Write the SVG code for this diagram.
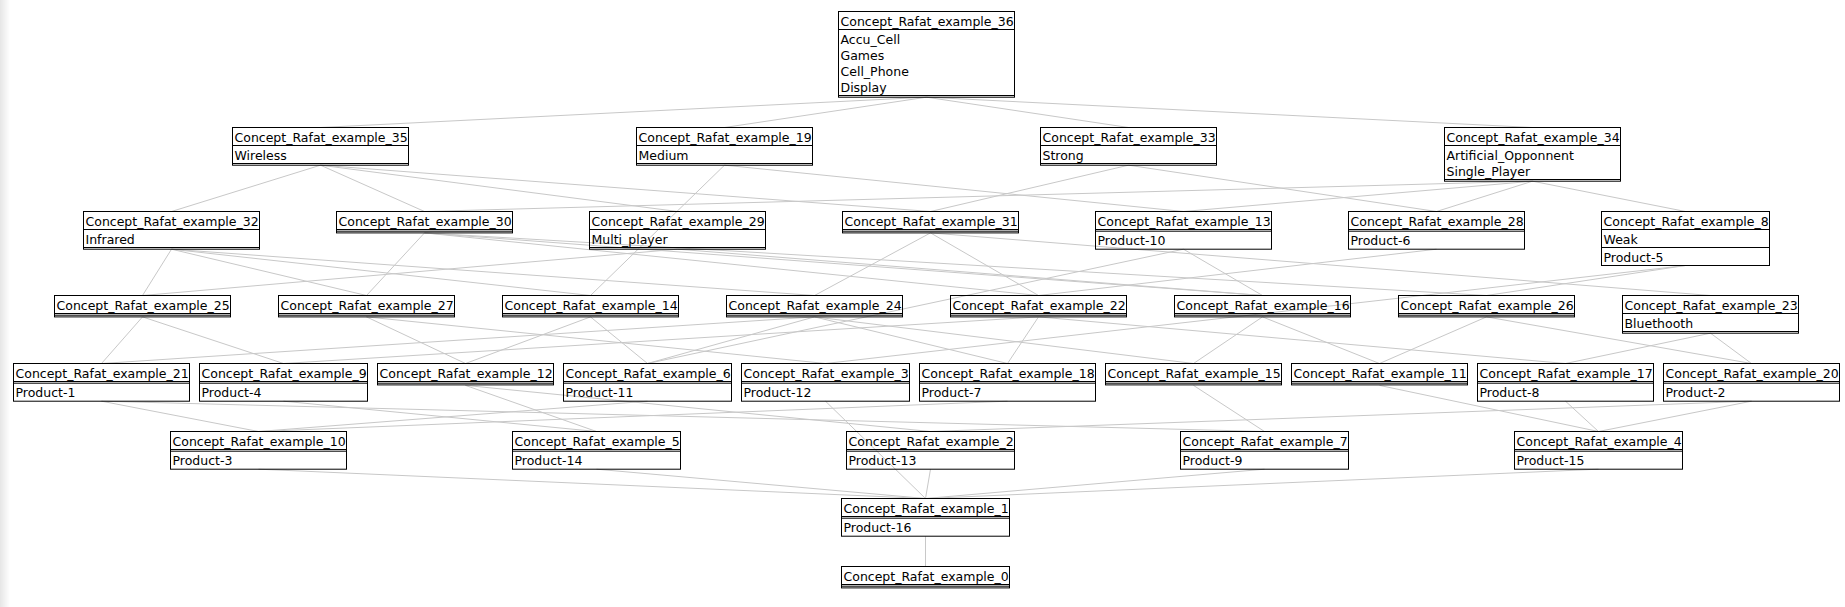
<svg xmlns="http://www.w3.org/2000/svg" width="1845" height="607" viewBox="0 0 1845 607">
<defs>
<linearGradient id="edge" x1="0" y1="0" x2="1" y2="0"><stop offset="0" stop-color="#e6e6e6"/><stop offset="1" stop-color="#ffffff"/></linearGradient>
</defs>
<style>
.b{fill:none;stroke:#000;stroke-width:1}
.s{stroke:#000;stroke-width:1}
.c line{stroke:#c8c8c8;stroke-width:1}
text{font-family:"DejaVu Sans","Liberation Sans",sans-serif;font-size:12.5px;fill:#000}
</style>
<rect x="0" y="0" width="1845" height="607" fill="#fff"/>
<rect x="0" y="0" width="10" height="607" fill="url(#edge)"/>
<g class="c" id="connectors">
<line x1="926.5" y1="97.2" x2="320.5" y2="127.5"/>
<line x1="926.5" y1="97.2" x2="724.5" y2="127.5"/>
<line x1="926.5" y1="97.2" x2="1128.5" y2="127.5"/>
<line x1="926.5" y1="97.2" x2="1532.5" y2="127.5"/>
<line x1="320.5" y1="165.2" x2="171.5" y2="211.5"/>
<line x1="320.5" y1="165.2" x2="424.5" y2="211.5"/>
<line x1="320.5" y1="165.2" x2="677.5" y2="211.5"/>
<line x1="320.5" y1="165.2" x2="930.5" y2="211.5"/>
<line x1="724.5" y1="165.2" x2="590.5" y2="295.5"/>
<line x1="724.5" y1="165.2" x2="1183.5" y2="211.5"/>
<line x1="1128.5" y1="165.2" x2="930.5" y2="211.5"/>
<line x1="1128.5" y1="165.2" x2="1436.5" y2="211.5"/>
<line x1="1532.5" y1="181.2" x2="424.5" y2="211.5"/>
<line x1="1532.5" y1="181.2" x2="1183.5" y2="211.5"/>
<line x1="1532.5" y1="181.2" x2="1436.5" y2="211.5"/>
<line x1="1532.5" y1="181.2" x2="1685.5" y2="211.5"/>
<line x1="171.5" y1="249.2" x2="142.5" y2="295.5"/>
<line x1="171.5" y1="249.2" x2="366.5" y2="295.5"/>
<line x1="171.5" y1="249.2" x2="590.5" y2="295.5"/>
<line x1="171.5" y1="249.2" x2="814.5" y2="295.5"/>
<line x1="424.5" y1="232.9" x2="366.5" y2="295.5"/>
<line x1="424.5" y1="232.9" x2="1038.5" y2="295.5"/>
<line x1="424.5" y1="232.9" x2="1262.5" y2="295.5"/>
<line x1="424.5" y1="232.9" x2="1486.5" y2="295.5"/>
<line x1="677.5" y1="249.2" x2="142.5" y2="295.5"/>
<line x1="677.5" y1="249.2" x2="1262.5" y2="295.5"/>
<line x1="930.5" y1="232.9" x2="814.5" y2="295.5"/>
<line x1="930.5" y1="232.9" x2="1038.5" y2="295.5"/>
<line x1="930.5" y1="232.9" x2="1710.5" y2="295.5"/>
<line x1="1183.5" y1="249.2" x2="647.5" y2="363.5"/>
<line x1="1183.5" y1="249.2" x2="1262.5" y2="295.5"/>
<line x1="1436.5" y1="249.2" x2="1038.5" y2="295.5"/>
<line x1="1685.5" y1="265.5" x2="1486.5" y2="295.5"/>
<line x1="1685.5" y1="265.5" x2="825.5" y2="363.5"/>
<line x1="142.5" y1="316.9" x2="101.5" y2="363.5"/>
<line x1="142.5" y1="316.9" x2="283.5" y2="363.5"/>
<line x1="366.5" y1="316.9" x2="465.5" y2="363.5"/>
<line x1="366.5" y1="316.9" x2="825.5" y2="363.5"/>
<line x1="590.5" y1="316.9" x2="465.5" y2="363.5"/>
<line x1="590.5" y1="316.9" x2="647.5" y2="363.5"/>
<line x1="814.5" y1="316.9" x2="101.5" y2="363.5"/>
<line x1="814.5" y1="316.9" x2="647.5" y2="363.5"/>
<line x1="814.5" y1="316.9" x2="1007.5" y2="363.5"/>
<line x1="814.5" y1="316.9" x2="1193.5" y2="363.5"/>
<line x1="1038.5" y1="316.9" x2="283.5" y2="363.5"/>
<line x1="1038.5" y1="316.9" x2="1007.5" y2="363.5"/>
<line x1="1038.5" y1="316.9" x2="1565.5" y2="363.5"/>
<line x1="1262.5" y1="316.9" x2="1193.5" y2="363.5"/>
<line x1="1262.5" y1="316.9" x2="1379.5" y2="363.5"/>
<line x1="1486.5" y1="316.9" x2="1379.5" y2="363.5"/>
<line x1="1486.5" y1="316.9" x2="1751.5" y2="363.5"/>
<line x1="1710.5" y1="333.2" x2="1565.5" y2="363.5"/>
<line x1="1710.5" y1="333.2" x2="1751.5" y2="363.5"/>
<line x1="101.5" y1="401.2" x2="258.5" y2="431.5"/>
<line x1="101.5" y1="401.2" x2="1264.5" y2="431.5"/>
<line x1="283.5" y1="401.2" x2="596.5" y2="431.5"/>
<line x1="465.5" y1="385.4" x2="596.5" y2="431.5"/>
<line x1="465.5" y1="385.4" x2="930.5" y2="431.5"/>
<line x1="647.5" y1="401.2" x2="258.5" y2="431.5"/>
<line x1="825.5" y1="401.2" x2="925.5" y2="498.5"/>
<line x1="1007.5" y1="401.2" x2="258.5" y2="431.5"/>
<line x1="1193.5" y1="385.4" x2="1264.5" y2="431.5"/>
<line x1="1379.5" y1="385.4" x2="1598.5" y2="431.5"/>
<line x1="1565.5" y1="401.2" x2="1598.5" y2="431.5"/>
<line x1="1751.5" y1="401.2" x2="1598.5" y2="431.5"/>
<line x1="1751.5" y1="401.2" x2="930.5" y2="431.5"/>
<line x1="258.5" y1="469.2" x2="925.5" y2="498.5"/>
<line x1="596.5" y1="469.2" x2="925.5" y2="498.5"/>
<line x1="930.5" y1="469.2" x2="925.5" y2="498.5"/>
<line x1="1264.5" y1="469.2" x2="925.5" y2="498.5"/>
<line x1="1598.5" y1="469.2" x2="925.5" y2="498.5"/>
<line x1="925.5" y1="536.2" x2="925.5" y2="566.5"/>
</g>
<g id="n36"><rect class="b" x="838.5" y="11.5" width="176" height="85.7"/><line class="s" x1="838.5" y1="29.5" x2="1014.5" y2="29.5"/><line class="s" x1="838.5" y1="95.5" x2="1014.5" y2="95.5"/><text x="840.5" y="25.5">Concept_Rafat_example_36</text><text x="840.5" y="43.5">Accu_Cell</text><text x="840.5" y="59.5">Games</text><text x="840.5" y="75.5">Cell_Phone</text><text x="840.5" y="91.5">Display</text></g>
<g id="n35"><rect class="b" x="232.5" y="127.5" width="176" height="37.7"/><line class="s" x1="232.5" y1="145.5" x2="408.5" y2="145.5"/><line class="s" x1="232.5" y1="163.5" x2="408.5" y2="163.5"/><text x="234.5" y="141.5">Concept_Rafat_example_35</text><text x="234.5" y="159.5">Wireless</text></g>
<g id="n19"><rect class="b" x="636.5" y="127.5" width="176" height="37.7"/><line class="s" x1="636.5" y1="145.5" x2="812.5" y2="145.5"/><line class="s" x1="636.5" y1="163.5" x2="812.5" y2="163.5"/><text x="638.5" y="141.5">Concept_Rafat_example_19</text><text x="638.5" y="159.5">Medium</text></g>
<g id="n33"><rect class="b" x="1040.5" y="127.5" width="176" height="37.7"/><line class="s" x1="1040.5" y1="145.5" x2="1216.5" y2="145.5"/><line class="s" x1="1040.5" y1="163.5" x2="1216.5" y2="163.5"/><text x="1042.5" y="141.5">Concept_Rafat_example_33</text><text x="1042.5" y="159.5">Strong</text></g>
<g id="n34"><rect class="b" x="1444.5" y="127.5" width="176" height="53.7"/><line class="s" x1="1444.5" y1="145.5" x2="1620.5" y2="145.5"/><line class="s" x1="1444.5" y1="179.5" x2="1620.5" y2="179.5"/><text x="1446.5" y="141.5">Concept_Rafat_example_34</text><text x="1446.5" y="159.5">Artificial_Opponnent</text><text x="1446.5" y="175.5">Single_Player</text></g>
<g id="n32"><rect class="b" x="83.5" y="211.5" width="176" height="37.7"/><line class="s" x1="83.5" y1="229.5" x2="259.5" y2="229.5"/><line class="s" x1="83.5" y1="247.5" x2="259.5" y2="247.5"/><text x="85.5" y="225.5">Concept_Rafat_example_32</text><text x="85.5" y="243.5">Infrared</text></g>
<g id="n30"><rect class="b" x="336.5" y="211.5" width="176" height="21.4"/><line class="s" x1="336.5" y1="229.5" x2="512.5" y2="229.5"/><line class="s" x1="336.5" y1="231.2" x2="512.5" y2="231.2"/><text x="338.5" y="225.5">Concept_Rafat_example_30</text></g>
<g id="n29"><rect class="b" x="589.5" y="211.5" width="176" height="37.7"/><line class="s" x1="589.5" y1="229.5" x2="765.5" y2="229.5"/><line class="s" x1="589.5" y1="247.5" x2="765.5" y2="247.5"/><text x="591.5" y="225.5">Concept_Rafat_example_29</text><text x="591.5" y="243.5">Multi_player</text></g>
<g id="n31"><rect class="b" x="842.5" y="211.5" width="176" height="21.4"/><line class="s" x1="842.5" y1="229.5" x2="1018.5" y2="229.5"/><line class="s" x1="842.5" y1="231.2" x2="1018.5" y2="231.2"/><text x="844.5" y="225.5">Concept_Rafat_example_31</text></g>
<g id="n13"><rect class="b" x="1095.5" y="211.5" width="176" height="37.7"/><line class="s" x1="1095.5" y1="229.5" x2="1271.5" y2="229.5"/><line class="s" x1="1095.5" y1="231.2" x2="1271.5" y2="231.2"/><text x="1097.5" y="225.5">Concept_Rafat_example_13</text><text x="1097.5" y="245">Product-10</text></g>
<g id="n28"><rect class="b" x="1348.5" y="211.5" width="176" height="37.7"/><line class="s" x1="1348.5" y1="229.5" x2="1524.5" y2="229.5"/><line class="s" x1="1348.5" y1="231.2" x2="1524.5" y2="231.2"/><text x="1350.5" y="225.5">Concept_Rafat_example_28</text><text x="1350.5" y="245">Product-6</text></g>
<g id="n8"><rect class="b" x="1601.5" y="211.5" width="168" height="54"/><line class="s" x1="1601.5" y1="229.5" x2="1769.5" y2="229.5"/><line class="s" x1="1601.5" y1="247.5" x2="1769.5" y2="247.5"/><text x="1603.5" y="225.5">Concept_Rafat_example_8</text><text x="1603.5" y="243.5">Weak</text><text x="1603.5" y="261.5">Product-5</text></g>
<g id="n25"><rect class="b" x="54.5" y="295.5" width="176" height="21.4"/><line class="s" x1="54.5" y1="313.5" x2="230.5" y2="313.5"/><line class="s" x1="54.5" y1="315.2" x2="230.5" y2="315.2"/><text x="56.5" y="309.5">Concept_Rafat_example_25</text></g>
<g id="n27"><rect class="b" x="278.5" y="295.5" width="176" height="21.4"/><line class="s" x1="278.5" y1="313.5" x2="454.5" y2="313.5"/><line class="s" x1="278.5" y1="315.2" x2="454.5" y2="315.2"/><text x="280.5" y="309.5">Concept_Rafat_example_27</text></g>
<g id="n14"><rect class="b" x="502.5" y="295.5" width="176" height="21.4"/><line class="s" x1="502.5" y1="313.5" x2="678.5" y2="313.5"/><line class="s" x1="502.5" y1="315.2" x2="678.5" y2="315.2"/><text x="504.5" y="309.5">Concept_Rafat_example_14</text></g>
<g id="n24"><rect class="b" x="726.5" y="295.5" width="176" height="21.4"/><line class="s" x1="726.5" y1="313.5" x2="902.5" y2="313.5"/><line class="s" x1="726.5" y1="315.2" x2="902.5" y2="315.2"/><text x="728.5" y="309.5">Concept_Rafat_example_24</text></g>
<g id="n22"><rect class="b" x="950.5" y="295.5" width="176" height="21.4"/><line class="s" x1="950.5" y1="313.5" x2="1126.5" y2="313.5"/><line class="s" x1="950.5" y1="315.2" x2="1126.5" y2="315.2"/><text x="952.5" y="309.5">Concept_Rafat_example_22</text></g>
<g id="n16"><rect class="b" x="1174.5" y="295.5" width="176" height="21.4"/><line class="s" x1="1174.5" y1="313.5" x2="1350.5" y2="313.5"/><line class="s" x1="1174.5" y1="315.2" x2="1350.5" y2="315.2"/><text x="1176.5" y="309.5">Concept_Rafat_example_16</text></g>
<g id="n26"><rect class="b" x="1398.5" y="295.5" width="176" height="21.4"/><line class="s" x1="1398.5" y1="313.5" x2="1574.5" y2="313.5"/><line class="s" x1="1398.5" y1="315.2" x2="1574.5" y2="315.2"/><text x="1400.5" y="309.5">Concept_Rafat_example_26</text></g>
<g id="n23"><rect class="b" x="1622.5" y="295.5" width="176" height="37.7"/><line class="s" x1="1622.5" y1="313.5" x2="1798.5" y2="313.5"/><line class="s" x1="1622.5" y1="331.5" x2="1798.5" y2="331.5"/><text x="1624.5" y="309.5">Concept_Rafat_example_23</text><text x="1624.5" y="327.5">Bluethooth</text></g>
<g id="n21"><rect class="b" x="13.5" y="363.5" width="176" height="37.7"/><line class="s" x1="13.5" y1="381.5" x2="189.5" y2="381.5"/><line class="s" x1="13.5" y1="383.2" x2="189.5" y2="383.2"/><text x="15.5" y="377.5">Concept_Rafat_example_21</text><text x="15.5" y="397">Product-1</text></g>
<g id="n9"><rect class="b" x="199.5" y="363.5" width="168" height="37.7"/><line class="s" x1="199.5" y1="381.5" x2="367.5" y2="381.5"/><line class="s" x1="199.5" y1="383.2" x2="367.5" y2="383.2"/><text x="201.5" y="377.5">Concept_Rafat_example_9</text><text x="201.5" y="397">Product-4</text></g>
<g id="n12"><rect class="b" x="377.5" y="363.5" width="176" height="21.4"/><line class="s" x1="377.5" y1="381.5" x2="553.5" y2="381.5"/><line class="s" x1="377.5" y1="383.2" x2="553.5" y2="383.2"/><text x="379.5" y="377.5">Concept_Rafat_example_12</text></g>
<g id="n6"><rect class="b" x="563.5" y="363.5" width="168" height="37.7"/><line class="s" x1="563.5" y1="381.5" x2="731.5" y2="381.5"/><line class="s" x1="563.5" y1="383.2" x2="731.5" y2="383.2"/><text x="565.5" y="377.5">Concept_Rafat_example_6</text><text x="565.5" y="397">Product-11</text></g>
<g id="n3"><rect class="b" x="741.5" y="363.5" width="168" height="37.7"/><line class="s" x1="741.5" y1="381.5" x2="909.5" y2="381.5"/><line class="s" x1="741.5" y1="383.2" x2="909.5" y2="383.2"/><text x="743.5" y="377.5">Concept_Rafat_example_3</text><text x="743.5" y="397">Product-12</text></g>
<g id="n18"><rect class="b" x="919.5" y="363.5" width="176" height="37.7"/><line class="s" x1="919.5" y1="381.5" x2="1095.5" y2="381.5"/><line class="s" x1="919.5" y1="383.2" x2="1095.5" y2="383.2"/><text x="921.5" y="377.5">Concept_Rafat_example_18</text><text x="921.5" y="397">Product-7</text></g>
<g id="n15"><rect class="b" x="1105.5" y="363.5" width="176" height="21.4"/><line class="s" x1="1105.5" y1="381.5" x2="1281.5" y2="381.5"/><line class="s" x1="1105.5" y1="383.2" x2="1281.5" y2="383.2"/><text x="1107.5" y="377.5">Concept_Rafat_example_15</text></g>
<g id="n11"><rect class="b" x="1291.5" y="363.5" width="176" height="21.4"/><line class="s" x1="1291.5" y1="381.5" x2="1467.5" y2="381.5"/><line class="s" x1="1291.5" y1="383.2" x2="1467.5" y2="383.2"/><text x="1293.5" y="377.5">Concept_Rafat_example_11</text></g>
<g id="n17"><rect class="b" x="1477.5" y="363.5" width="176" height="37.7"/><line class="s" x1="1477.5" y1="381.5" x2="1653.5" y2="381.5"/><line class="s" x1="1477.5" y1="383.2" x2="1653.5" y2="383.2"/><text x="1479.5" y="377.5">Concept_Rafat_example_17</text><text x="1479.5" y="397">Product-8</text></g>
<g id="n20"><rect class="b" x="1663.5" y="363.5" width="176" height="37.7"/><line class="s" x1="1663.5" y1="381.5" x2="1839.5" y2="381.5"/><line class="s" x1="1663.5" y1="383.2" x2="1839.5" y2="383.2"/><text x="1665.5" y="377.5">Concept_Rafat_example_20</text><text x="1665.5" y="397">Product-2</text></g>
<g id="n10"><rect class="b" x="170.5" y="431.5" width="176" height="37.7"/><line class="s" x1="170.5" y1="449.5" x2="346.5" y2="449.5"/><line class="s" x1="170.5" y1="451.2" x2="346.5" y2="451.2"/><text x="172.5" y="445.5">Concept_Rafat_example_10</text><text x="172.5" y="465">Product-3</text></g>
<g id="n5"><rect class="b" x="512.5" y="431.5" width="168" height="37.7"/><line class="s" x1="512.5" y1="449.5" x2="680.5" y2="449.5"/><line class="s" x1="512.5" y1="451.2" x2="680.5" y2="451.2"/><text x="514.5" y="445.5">Concept_Rafat_example_5</text><text x="514.5" y="465">Product-14</text></g>
<g id="n2"><rect class="b" x="846.5" y="431.5" width="168" height="37.7"/><line class="s" x1="846.5" y1="449.5" x2="1014.5" y2="449.5"/><line class="s" x1="846.5" y1="451.2" x2="1014.5" y2="451.2"/><text x="848.5" y="445.5">Concept_Rafat_example_2</text><text x="848.5" y="465">Product-13</text></g>
<g id="n7"><rect class="b" x="1180.5" y="431.5" width="168" height="37.7"/><line class="s" x1="1180.5" y1="449.5" x2="1348.5" y2="449.5"/><line class="s" x1="1180.5" y1="451.2" x2="1348.5" y2="451.2"/><text x="1182.5" y="445.5">Concept_Rafat_example_7</text><text x="1182.5" y="465">Product-9</text></g>
<g id="n4"><rect class="b" x="1514.5" y="431.5" width="168" height="37.7"/><line class="s" x1="1514.5" y1="449.5" x2="1682.5" y2="449.5"/><line class="s" x1="1514.5" y1="451.2" x2="1682.5" y2="451.2"/><text x="1516.5" y="445.5">Concept_Rafat_example_4</text><text x="1516.5" y="465">Product-15</text></g>
<g id="n1"><rect class="b" x="841.5" y="498.5" width="168" height="37.7"/><line class="s" x1="841.5" y1="516.5" x2="1009.5" y2="516.5"/><line class="s" x1="841.5" y1="518.2" x2="1009.5" y2="518.2"/><text x="843.5" y="512.5">Concept_Rafat_example_1</text><text x="843.5" y="532">Product-16</text></g>
<g id="n0"><rect class="b" x="841.5" y="566.5" width="168" height="21.4"/><line class="s" x1="841.5" y1="584.5" x2="1009.5" y2="584.5"/><line class="s" x1="841.5" y1="586.2" x2="1009.5" y2="586.2"/><text x="843.5" y="580.5">Concept_Rafat_example_0</text></g>
</svg>
